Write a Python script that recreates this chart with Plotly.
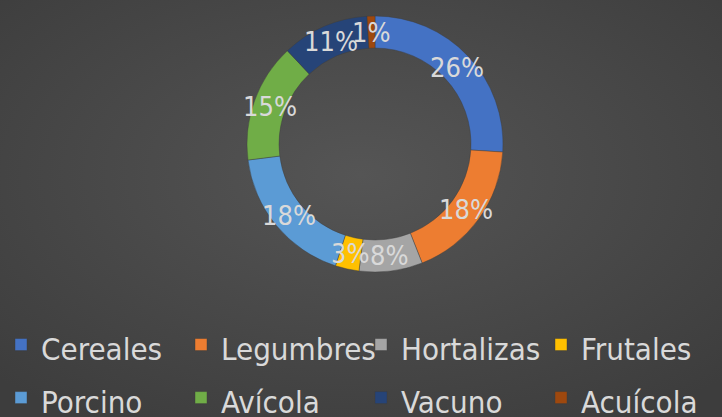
import math
import base64
import plotly.graph_objects as go

# ---- data ----
categories = ["Cereales", "Legumbres", "Hortalizas", "Frutales",
              "Porcino", "Avícola", "Vacuno", "Acuícola"]
shares = [26, 18, 8, 3, 18, 15, 11, 1]
colors = ["#4472C4", "#ED7D31", "#A5A5A5", "#FFC000",
          "#5B9BD5", "#70AD47", "#264478", "#9E480E"]

# ---- layout constants ----
W, H = 722, 417
CX, CY, R = 375, 144, 128
HOLE = 0.75
FONT = "DejaVu Sans Condensed, DejaVu Sans, sans-serif"
TXT = "#d9d9d9"

dom_x = [(CX - R) / W, (CX + R) / W]
dom_y = [(H - CY - R) / H, (H - CY + R) / H]

legend_labels = [f'<span style="font-size:31px">{c}</span>' for c in categories]

fig = go.Figure(go.Pie(
    labels=legend_labels,
    values=shares,
    sort=False,
    direction="clockwise",
    rotation=0,
    hole=HOLE,
    marker=dict(colors=colors, line=dict(width=0.6, color="rgba(60,60,60,0.7)")),
    textinfo="none",
    hoverinfo="skip",
    domain=dict(x=dom_x, y=dom_y),
    showlegend=True,
))

# percentage labels at the middle of the ring
total = sum(shares)
rmid = R * (1 + HOLE) / 2
cum = 0
annotations = []
for v in shares:
    mid = (cum + v / 2) / total * 2 * math.pi
    cum += v
    px = CX + rmid * math.sin(mid)
    py = CY - rmid * math.cos(mid)
    annotations.append(dict(
        x=px / W, y=1 - py / H, xref="paper", yref="paper",
        text=f"{round(v / total * 100)}%", showarrow=False,
        xanchor="center", yanchor="middle",
        font=dict(size=27, color=TXT, family=FONT),
    ))

svg = (f'<svg xmlns="http://www.w3.org/2000/svg" width="{W}" height="{H}">'
       '<defs><radialGradient id="g" cx="50%" cy="42%" r="70%">'
       '<stop offset="0%" stop-color="#555555"/>'
       '<stop offset="100%" stop-color="#3d3d3d"/>'
       '</radialGradient></defs>'
       f'<rect width="{W}" height="{H}" fill="url(#g)"/></svg>')
bg_src = "data:image/svg+xml;base64," + base64.b64encode(svg.encode()).decode()

fig.update_layout(
    width=W, height=H,
    margin=dict(l=0, r=0, t=0, b=0, autoexpand=False),
    paper_bgcolor="#474747",
    plot_bgcolor="#474747",
    font=dict(family=FONT, color=TXT),
    annotations=annotations,
    images=[dict(source=bg_src, xref="paper", yref="paper", x=0, y=1,
                 sizex=1, sizey=1, xanchor="left", yanchor="top",
                 sizing="stretch", layer="below")],
    legend=dict(
        orientation="h",
        x=1 / W, xanchor="left",
        y=1 - 313 / H, yanchor="top",
        entrywidth=135, entrywidthmode="pixels",
        font=dict(size=38.5, color=TXT, family=FONT),
        bgcolor="rgba(0,0,0,0)",
        itemclick=False, itemdoubleclick=False,
    ),
)

fig.write_html(
    "out.html",
    config={"displayModeBar": False},
    post_script="document.body.style.margin='0';document.body.style.overflow='hidden';",
)
